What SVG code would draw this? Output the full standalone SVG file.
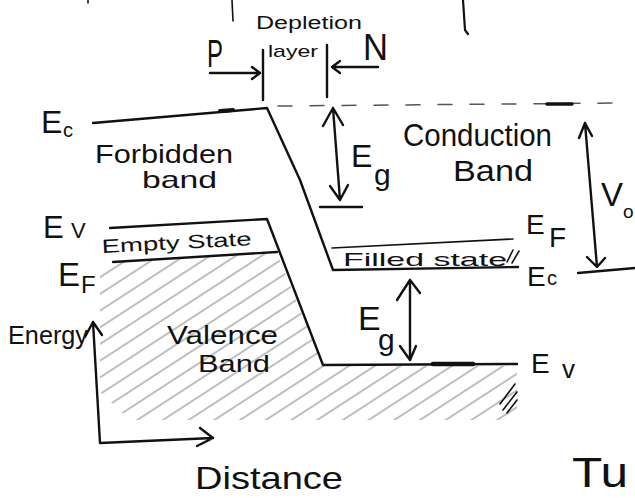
<svg xmlns="http://www.w3.org/2000/svg" width="635" height="498" viewBox="0 0 635 498">
<style>
.ln{fill:none;stroke:#111;stroke-width:2.4;stroke-linecap:round;stroke-linejoin:round}
.th{fill:none;stroke:#111;stroke-width:1.6;stroke-linecap:round;stroke-linejoin:round}
.ds{fill:none;stroke:#555;stroke-width:1.5;stroke-dasharray:14 18;stroke-linecap:round}
.t{font-family:"Liberation Sans",Arial,sans-serif;fill:#111}
</style>
<defs>
<pattern id="hatch" patternUnits="userSpaceOnUse" width="14" height="14" patternTransform="rotate(-33)">
<line x1="0" y1="7" x2="14" y2="7" stroke="#8a8a8a" stroke-width="1.1"/>
</pattern>
<clipPath id="hc"><polygon points="100,263 277,253 323,366 517,366 517,420 130,420 100,392"/></clipPath>
</defs>
<rect width="635" height="498" fill="#fff"/>

<g id="fragments" class="th">
<path d="M232,0 L233,21"/>
<path d="M463,0 L465,30 L468,34" stroke-width="2.2"/>
<path d="M88,0 L88,3"/>
</g>

<g id="hatching">
<rect x="90" y="240" width="440" height="190" fill="url(#hatch)" clip-path="url(#hc)"/>
<path class="th" d="M503,410 L517,392 M507,413 L517,400 M500,404 L515,384" stroke-width="1.4"/>
</g>

<g id="bands">
<path class="ln" d="M93,123 L267,108 L300,180 L333,270 L518,267"/>
<path class="th" d="M332,248 L513,239"/>
<path class="th" d="M507,262 L513,250 M512,263 L519,251"/>
<path class="ds" d="M278,106 L622,103"/>
<path d="M547,104 L572,104" stroke="#111" stroke-width="3.5" stroke-linecap="round"/>
<path class="ln" d="M110,228 L267,219 L323,365 L517,364"/>
<path d="M433,364 L473,364" stroke="#111" stroke-width="4.5" stroke-linecap="round"/>
<path d="M220,111 L233,110" stroke="#111" stroke-width="4" stroke-linecap="round"/>
<path class="ln" d="M113,262 L277,252"/>
</g>

<g id="depletion">
<path class="ln" d="M263,50 L263,100 M327,45 L327,97"/>
<path class="ln" d="M210,73 L260,73 M252,67 L260,73 L252,79"/>
<path class="ln" d="M378,67 L332,67 M340,61 L332,67 L340,73"/>
<text class="t" x="256" y="29" font-size="18" textLength="106" lengthAdjust="spacingAndGlyphs">Depletion</text>
<text class="t" x="268" y="57" font-size="17" textLength="50" lengthAdjust="spacingAndGlyphs">layer</text>
<text class="t" x="207" y="67" font-size="38" textLength="16" lengthAdjust="spacingAndGlyphs">P</text>
<text class="t" x="363" y="60" font-size="37" textLength="25" lengthAdjust="spacingAndGlyphs">N</text>
</g>

<g id="arrows">
<path class="ln" d="M333,108 L340,200 M323,126 L333,108 L343,125 M330,186 L340,200 L348,185"/>
<path class="ln" d="M320,207 L362,207"/>
<path class="ln" d="M410,280 L410,360 M397,300 L410,280 L420,293 M400,346 L410,360 L416,346"/>
<path class="ln" d="M585,123 L597,267 M579,138 L585,123 L592,136 M587,257 L597,267 L605,258"/>
<path class="ln" d="M578,273 L635,268"/>
<path class="ln" d="M93,322 L100,443 L213,438 M85,337 L93,322 L102,335 M200,428 L213,438 L197,446"/>
</g>

<g id="labels">
<text class="t" x="41" y="133" font-size="32">E</text>
<text class="t" x="63" y="137" font-size="20">c</text>
<text class="t" x="95" y="163" font-size="25" textLength="138" lengthAdjust="spacingAndGlyphs">Forbidden</text>
<text class="t" x="142" y="188" font-size="24" textLength="75" lengthAdjust="spacingAndGlyphs">band</text>
<text class="t" x="43" y="238" font-size="31">E</text>
<text class="t" x="71" y="238" font-size="22">V</text>
<text class="t" x="102" y="253" font-size="19" textLength="150" lengthAdjust="spacingAndGlyphs" transform="rotate(-3 102 253)">Empty State</text>
<text class="t" x="58" y="286" font-size="33">E</text>
<text class="t" x="81" y="293" font-size="24">F</text>
<text class="t" x="8" y="344" font-size="26" textLength="80" lengthAdjust="spacingAndGlyphs">Energy</text>
<text class="t" x="167" y="344" font-size="26" textLength="111" lengthAdjust="spacingAndGlyphs">Valence</text>
<text class="t" x="198" y="372" font-size="24" textLength="72" lengthAdjust="spacingAndGlyphs">Band</text>
<text class="t" x="195" y="489" font-size="32" textLength="148" lengthAdjust="spacingAndGlyphs">Distance</text>
<text class="t" x="572" y="487" font-size="42" textLength="56" lengthAdjust="spacingAndGlyphs">Tu</text>
<text class="t" x="351" y="167" font-size="32">E</text>
<text class="t" x="374" y="185" font-size="30">g</text>
<text class="t" x="403" y="146" font-size="31" textLength="149" lengthAdjust="spacingAndGlyphs">Conduction</text>
<text class="t" x="453" y="181" font-size="29" textLength="80" lengthAdjust="spacingAndGlyphs">Band</text>
<text class="t" x="601" y="206" font-size="33">V</text>
<text class="t" x="623" y="218" font-size="19">o</text>
<text class="t" x="526" y="234" font-size="28">E</text>
<text class="t" x="549" y="247" font-size="28">F</text>
<text class="t" x="527" y="286" font-size="28">E</text>
<text class="t" x="547" y="285" font-size="20">c</text>
<text class="t" x="343" y="266" font-size="19" textLength="164" lengthAdjust="spacingAndGlyphs">Filled state</text>
<text class="t" x="358" y="330" font-size="34">E</text>
<text class="t" x="378" y="350" font-size="30">g</text>
<text class="t" x="531" y="373" font-size="28">E</text>
<text class="t" x="562" y="378" font-size="26">v</text>
</g>
</svg>
